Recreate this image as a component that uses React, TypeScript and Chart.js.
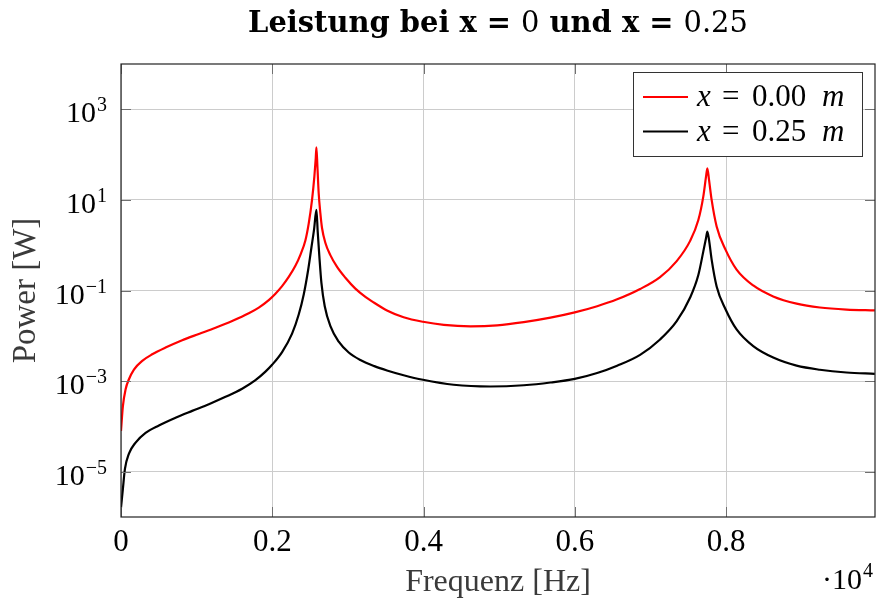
import React, { useEffect, useRef } from 'react';
import { Chart, registerables } from 'chart.js';

Chart.register(...registerables);

// ---- data ----
const freqRed = [0, 25, 61, 105, 171, 281, 413, 589, 809, 1029, 1250, 1470, 1690, 1822, 1954, 2042, 2130, 2218, 2306, 2372, 2438, 2482, 2526, 2557, 2575, 2584, 2597, 2614, 2636, 2658, 2703, 2768, 2857, 2967, 3099, 3231, 3320, 3517, 3737, 3993, 4269, 4622, 4974, 5326, 5679, 6000, 6296, 6560, 6864, 7128, 7348, 7524, 7634, 7700, 7736, 7753, 7775, 7810, 7876, 7995, 8140, 8360, 8624, 8933, 9241, 9593, 9968];
const powerRed = [7.9e-5, 2.8e-4, 6.6e-4, 1.1e-3, 1.8e-3, 2.8e-3, 3.9e-3, 5.5e-3, 8.0e-3, 0.011, 0.0151, 0.0213, 0.0315, 0.042, 0.0614, 0.0849, 0.125, 0.199, 0.35, 0.614, 1.27, 2.99, 10, 33, 83, 145, 55, 14, 5.1, 2.4, 1.12, 0.603, 0.331, 0.191, 0.11, 0.0724, 0.0575, 0.0363, 0.0257, 0.0204, 0.0174, 0.0162, 0.017, 0.02, 0.0251, 0.0328, 0.0449, 0.0638, 0.108, 0.198, 0.446, 1.23, 3.6, 12, 33, 50, 28, 10, 2.6, 0.79, 0.29, 0.129, 0.0741, 0.0513, 0.0422, 0.038, 0.0363];

const freqBlack = [0, 25, 52, 105, 193, 325, 501, 721, 941, 1162, 1382, 1602, 1778, 1910, 1998, 2130, 2262, 2351, 2417, 2474, 2518, 2553, 2584, 2601, 2623, 2650, 2694, 2769, 2879, 3011, 3165, 3350, 3517, 3737, 3993, 4398, 4883, 5326, 5679, 6000, 6296, 6560, 6864, 7128, 7348, 7524, 7634, 7700, 7736, 7753, 7775, 7810, 7876, 7995, 8140, 8360, 8624, 8933, 9241, 9593, 9968];
const powerBlack = [1.6e-6, 4.2e-6, 1.15e-5, 2.5e-5, 4.4e-5, 7.2e-5, 1.05e-4, 1.55e-4, 2.2e-4, 3.1e-4, 4.5e-4, 6.8e-4, 1.05e-3, 1.62e-3, 2.29e-3, 4.37e-3, 0.0112, 0.03, 0.083, 0.28, 0.89, 2.24, 6.0, 2.0, 0.56, 0.147, 0.045, 0.0163, 7.4e-3, 4.27e-3, 2.92e-3, 2.14e-3, 1.72e-3, 1.35e-3, 1.07e-3, 8.3e-4, 7.6e-4, 8.1e-4, 9.3e-4, 1.12e-3, 1.51e-3, 2.19e-3, 3.8e-3, 8.3e-3, 0.021, 0.069, 0.22, 0.73, 1.44, 2.0, 1.32, 0.48, 0.123, 0.038, 0.0138, 5.9e-3, 3.3e-3, 2.19e-3, 1.78e-3, 1.55e-3, 1.45e-3];

const xTicks = [0, 2000, 4000, 6000, 8000];
const xTickLabels = ['0', '0.2', '0.4', '0.6', '0.8'];
const yTicks = [1e-5, 1e-3, 1e-1, 1e1, 1e3];
const yTickExponents = ['\u22125', '\u22123', '\u22121', '1', '3'];
const seriesValues = ['0.00', '0.25'];
const seriesColors = ['#ff0000', '#000000'];
const xTitle = 'Frequenz [Hz]';
const yTitle = 'Power [W]';

const SERIF = '"Liberation Serif", serif';

const decorPlugin = {
  id: 'decor',
  afterDraw(chart: any) {
    const ctx: CanvasRenderingContext2D = chart.ctx;
    const ca = chart.chartArea;
    const xs = chart.scales.x;
    const ys = chart.scales.y;
    ctx.save();

    // tick marks (inside, both sides)
    ctx.strokeStyle = '#707070';
    ctx.lineWidth = 1;
    ctx.beginPath();
    yTicks.forEach((v) => {
      const p = Math.round(ys.getPixelForValue(v)) + 0.5;
      ctx.moveTo(ca.left, p); ctx.lineTo(ca.left + 10, p);
      ctx.moveTo(ca.right - 10, p); ctx.lineTo(ca.right, p);
    });
    xTicks.forEach((v) => {
      const p = Math.round(xs.getPixelForValue(v)) + 0.5;
      ctx.moveTo(p, ca.bottom); ctx.lineTo(p, ca.bottom - 10);
      ctx.moveTo(p, ca.top); ctx.lineTo(p, ca.top + 10);
    });
    ctx.stroke();

    // axis box
    ctx.strokeStyle = '#222222';
    ctx.lineWidth = 1.2;
    ctx.strokeRect(ca.left, ca.top, ca.right - ca.left, ca.bottom - ca.top);

    // y tick labels 10^n
    ctx.fillStyle = '#000';
    ctx.textBaseline = 'alphabetic';
    ctx.textAlign = 'right';
    yTicks.forEach((v, i) => {
      const p = ys.getPixelForValue(v);
      ctx.font = `20px ${SERIF}`;
      const ew = ctx.measureText(yTickExponents[i]).width;
      ctx.fillText(yTickExponents[i], 107, p + 2);
      ctx.font = `30px ${SERIF}`;
      ctx.fillText('10', 107 - ew - 1, p + 13);
    });

    // x tick labels
    ctx.textAlign = 'center';
    ctx.font = `31px ${SERIF}`;
    xTicks.forEach((v, i) => {
      ctx.fillText(xTickLabels[i], xs.getPixelForValue(v), 551);
    });

    // x axis title
    ctx.fillStyle = '#3a3a3a';
    ctx.font = `32px ${SERIF}`;
    ctx.fillText(xTitle, (ca.left + ca.right) / 2, 591);

    // scale label ·10^4
    ctx.fillStyle = '#000';
    ctx.textAlign = 'right';
    ctx.font = `20px ${SERIF}`;
    const w4 = ctx.measureText('4').width;
    ctx.fillText('4', 873, 577);
    ctx.font = `30px ${SERIF}`;
    ctx.fillText('\u00b710', 873 - w4 - 1, 589);

    // y axis title
    ctx.save();
    ctx.fillStyle = '#3a3a3a';
    ctx.translate(35, (ca.top + ca.bottom) / 2);
    ctx.rotate(-Math.PI / 2);
    ctx.textAlign = 'center';
    ctx.font = `33px ${SERIF}`;
    ctx.fillText(yTitle, 0, 0);
    ctx.restore();

    // title with mixed weights
    const parts = [
      { t: 'Leistung bei x = ', b: true },
      { t: '0', b: false },
      { t: ' und x = ', b: true },
      { t: '0.25', b: false },
    ];
    const fontFor = (b: boolean, s: number) => (b ? `bold ${s}px "DejaVu Serif"` : `${s}px "DejaVu Serif"`);
    let size = 27;
    let total = 0;
    parts.forEach((p) => { ctx.font = fontFor(p.b, size); total += ctx.measureText(p.t).width; });
    size = size * 500 / total;
    if (size > 29) size = 29;
    total = 0;
    parts.forEach((p) => { ctx.font = fontFor(p.b, size); total += ctx.measureText(p.t).width; });
    let tx = (ca.left + ca.right) / 2 - total / 2;
    ctx.textAlign = 'left';
    ctx.fillStyle = '#000';
    parts.forEach((p) => {
      ctx.font = fontFor(p.b, size);
      ctx.fillText(p.t, tx, 32);
      tx += ctx.measureText(p.t).width;
    });

    // legend
    const lx = 633, ly = 72, lw = 229, lh = 84;
    ctx.fillStyle = '#fff';
    ctx.fillRect(lx, ly, lw, lh);
    ctx.strokeStyle = '#333';
    ctx.lineWidth = 1;
    ctx.strokeRect(lx + 0.5, ly + 0.5, lw, lh);
    seriesValues.forEach((val, i) => {
      const cy = 97 + i * 34.5;
      ctx.strokeStyle = seriesColors[i];
      ctx.lineWidth = 2.2;
      ctx.beginPath();
      ctx.moveTo(643, cy); ctx.lineTo(688, cy);
      ctx.stroke();
      ctx.fillStyle = '#000';
      const base = cy + 9;
      ctx.font = `italic 31px ${SERIF}`;
      ctx.fillText('x', 697, base);
      ctx.font = `31px ${SERIF}`;
      ctx.fillText('=', 722, base);
      ctx.fillText(val, 752, base);
      ctx.font = `italic 31px ${SERIF}`;
      ctx.fillText('m', 822, base);
    });

    ctx.restore();
  },
};

export default function App() {
  const ref = useRef<HTMLCanvasElement | null>(null);
  useEffect(() => {
    if (!ref.current) return;
    const chart = new Chart(ref.current, {
      type: 'line',
      data: {
        datasets: [
          {
            label: 'x = 0.00 m',
            data: freqRed.map((f, i) => ({ x: f, y: powerRed[i] })),
            borderColor: seriesColors[0],
            borderWidth: 2.2,
            pointRadius: 0,
            fill: false,
            cubicInterpolationMode: 'monotone',
          },
          {
            label: 'x = 0.25 m',
            data: freqBlack.map((f, i) => ({ x: f, y: powerBlack[i] })),
            borderColor: seriesColors[1],
            borderWidth: 2.2,
            pointRadius: 0,
            fill: false,
            cubicInterpolationMode: 'monotone',
          },
        ],
      },
      options: {
        animation: false,
        responsive: false,
        devicePixelRatio: 1,
        layout: { padding: { top: 64, right: 2, left: 0, bottom: 0 } },
        plugins: { legend: { display: false }, title: { display: false }, tooltip: { enabled: false } },
        scales: {
          x: {
            type: 'linear',
            min: 0,
            max: 9970,
            ticks: { display: false },
            grid: { color: '#cccccc', lineWidth: 1, drawTicks: false },
            border: { display: false },
            afterBuildTicks: (s: any) => { s.ticks = xTicks.map((v) => ({ value: v })); },
            afterFit: (s: any) => { s.height = 84; },
          },
          y: {
            type: 'logarithmic',
            min: 1e-6,
            max: 1e4,
            ticks: { display: false },
            grid: { color: '#cccccc', lineWidth: 1, drawTicks: false },
            border: { display: false },
            afterBuildTicks: (s: any) => { s.ticks = yTicks.map((v) => ({ value: v })); },
            afterFit: (s: any) => { s.width = 121; },
          },
        },
      } as any,
      plugins: [decorPlugin],
    });
    return () => chart.destroy();
  }, []);
  return (
    <div style={{ position: 'absolute', left: 0, top: 0, width: 877, height: 601, background: '#fff' }}>
      <canvas ref={ref} width={877} height={601} style={{ display: 'block' }} />
    </div>
  );
}
